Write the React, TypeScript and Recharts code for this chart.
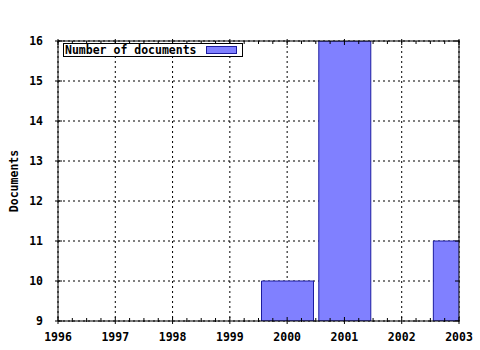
import { BarChart, Bar, XAxis, YAxis, CartesianGrid, Legend, Label } from 'recharts'

const years = [2000, 2001, 2003]
const documents = [10, 16, 11]
const yearTicks = [1996, 1997, 1998, 1999, 2000, 2001, 2002, 2003]
const docTicks = [9, 10, 11, 12, 13, 14, 15, 16]
const minorYearTicks = yearTicks.slice(0, -1).flatMap((y) => [y + 0.25, y + 0.5, y + 0.75])
const allYearTicks = [...yearTicks, ...minorYearTicks].sort((a, b) => a - b)

const data = years.map((year, i) => ({ year, documents: documents[i] }))

const FONT = '"DejaVu Sans Mono", monospace'
const BAR_FILL = '#8080ff'
const BAR_STROKE = '#1c1ca0'

const textStyle = { fontFamily: FONT, fontWeight: 700, fontSize: '11.5px', fill: '#000' }

const BottomTick = ({ x, y, payload }: any) => (
  <g>
    <line x1={x} x2={x} y1={y - 4} y2={y + 3} stroke="#000" />
    <text x={x} y={y + 20} textAnchor="middle" style={textStyle}>
      {payload.value}
    </text>
  </g>
)

const BottomMinorTick = ({ x, y }: any) => (
  <line x1={x} x2={x} y1={y - 3} y2={y + 1} stroke="#000" />
)

const TopTick = ({ x, y, payload }: any) => {
  const major = Number.isInteger(payload.value)
  return <line x1={x} x2={x} y1={y - (major ? 2 : 0)} y2={y + (major ? 4 : 3)} stroke="#000" />
}

const LeftTick = ({ x, y, payload }: any) => (
  <g>
    <line x1={x - 3} x2={x + 4} y1={y} y2={y} stroke="#000" />
    <text x={x - 15} y={y + 4} textAnchor="end" style={textStyle}>
      {payload.value}
    </text>
  </g>
)

const RightTick = ({ x, y }: any) => (
  <line x1={x - 4} x2={x + 1} y1={y} y2={y} stroke="#000" />
)

const LegendBox = ({ payload }: any) => (
  <div>
    {(payload || []).map((item: any) => (
      <div
        key={item.value}
        style={{
          display: 'flex',
          alignItems: 'center',
          border: '1px solid #000',
          width: '177px',
          height: '12px',
          paddingLeft: '1px',
          boxSizing: 'content-box',
          fontFamily: FONT,
          fontWeight: 700,
          fontSize: '11.5px',
          lineHeight: '12px',
          color: '#000',
          background: '#fff',
        }}
      >
        <span style={{ whiteSpace: 'pre' }}>{item.value}</span>
        <span
          style={{
            display: 'inline-block',
            marginLeft: '9px',
            width: '29px',
            height: '6px',
            background: BAR_FILL,
            border: `1px solid ${BAR_STROKE}`,
          }}
        />
      </div>
    ))}
  </div>
)

export default function App() {
  return (
    <div style={{ position: 'absolute', left: 0, top: 0, width: 480, height: 350, background: '#fff' }}>
      <BarChart
        width={480}
        height={350}
        data={data}
        margin={{ top: 41, right: 21, bottom: 0, left: 0 }}
      >
        <CartesianGrid stroke="#000" strokeDasharray="2 3" fill="none" />
        <XAxis
          dataKey="year"
          type="number"
          domain={[1996, 2003]}
          ticks={yearTicks}
          allowDataOverflow
          interval={0}
          height={29}
          tickSize={0}
          tickMargin={0}
          tickLine={false}
          axisLine={{ stroke: '#000' }}
          tick={<BottomTick />}
        />
        <XAxis
          xAxisId="minor"
          dataKey="year"
          type="number"
          domain={[1996, 2003]}
          ticks={minorYearTicks}
          allowDataOverflow
          interval={0}
          mirror
          tickSize={0}
          tickMargin={0}
          tickLine={false}
          axisLine={false}
          tick={<BottomMinorTick />}
        />
        <XAxis
          xAxisId="top"
          orientation="top"
          dataKey="year"
          type="number"
          domain={[1996, 2003]}
          ticks={allYearTicks}
          allowDataOverflow
          interval={0}
          mirror
          tickSize={0}
          tickMargin={0}
          tickLine={false}
          axisLine={{ stroke: '#000' }}
          tick={<TopTick />}
        />
        <YAxis
          type="number"
          domain={[9, 16]}
          ticks={docTicks}
          allowDataOverflow
          interval={0}
          width={58}
          tickSize={0}
          tickMargin={0}
          tickLine={false}
          axisLine={{ stroke: '#000' }}
          tick={<LeftTick />}
        >
          <Label
            content={({ viewBox }: any) => {
              const cy = viewBox.y + viewBox.height / 2
              return (
                <text
                  x={18}
                  y={cy}
                  transform={`rotate(-90 18 ${cy})`}
                  textAnchor="middle"
                  style={textStyle}
                >
                  Documents
                </text>
              )
            }}
          />
        </YAxis>
        <YAxis
          yAxisId="right"
          orientation="right"
          type="number"
          domain={[9, 16]}
          ticks={docTicks}
          allowDataOverflow
          interval={0}
          mirror
          tickSize={0}
          tickMargin={0}
          tickLine={false}
          axisLine={{ stroke: '#000' }}
          tick={<RightTick />}
        />
        <Legend
          layout="vertical"
          align="center"
          verticalAlign="middle"
          content={<LegendBox />}
          wrapperStyle={{ position: 'absolute', left: 63, top: 43, width: 'auto' }}
        />
        <Bar
          dataKey="documents"
          name="Number of documents"
          fill={BAR_FILL}
          stroke={BAR_STROKE}
          barSize={52}
          isAnimationActive={false}
        />
      </BarChart>
    </div>
  )
}
